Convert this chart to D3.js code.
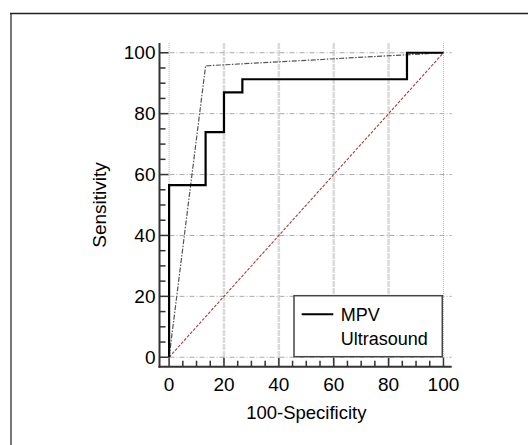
<!DOCTYPE html>
<html>
<head>
<meta charset="utf-8">
<script src="https://cdn.jsdelivr.net/npm/d3@7"></script>
<style>
  body { margin: 0; background: #fff; }
  svg { display: block; font-family: "Liberation Sans", Arial, sans-serif; }
</style>
</head>
<body>
<div id="chart"></div>
<script>
const w = 528;
const h = 445;

// ROC curve for MPV (step curve corners)
const mpvSpec = [0, 0, 13.3, 20, 26.7, 86.7, 100];
const mpvSens = [0, 56.5, 73.9, 87.0, 91.3, 100, 100];

// ROC curve for ultrasound (single cut point)
const usSpec = [0, 13.3, 100];
const usSens = [0, 95.7, 100];

// reference diagonal
const refSpec = [0, 100];
const refSens = [0, 100];

const majorTicks = [0, 20, 40, 60, 80, 100];
const minorTicks = d3.range(0, 101, 5).filter((d) => d % 20 !== 0);
const legendLabels = ["MPV", "Ultrasound"];

const svg = d3.select("#chart").append("svg")
  .attr("width", w)
  .attr("height", h);

// outer frame (only left and top edges are visible)
svg.append("line").attr("x1", 11).attr("x2", 11).attr("y1", 13).attr("y2", h)
  .attr("stroke", "#777").attr("stroke-width", 2);
svg.append("line").attr("x1", 10).attr("x2", w).attr("y1", 13.5).attr("y2", 13.5)
  .attr("stroke", "#222").attr("stroke-width", 1.5);

const pLeft = 159.5, pRight = 451.7, pTop = 43, pBottom = 366.7;

const x = d3.scaleLinear().domain([-3.5, 103]).range([pLeft, pRight]);
const y = d3.scaleLinear().domain([-3.1, 103.2]).range([pBottom, pTop]);

const grid = svg.append("g");

// vertical grid
grid.selectAll("line.vg").data(majorTicks).enter().append("line")
  .attr("class", "vg")
  .attr("x1", (d) => x(d)).attr("x2", (d) => x(d))
  .attr("y1", pTop).attr("y2", pBottom)
  .attr("stroke", (d) => (d === 0 || d === 100) ? "#b8b8b8" : "#dadada")
  .attr("stroke-width", (d) => (d === 0 || d === 100) ? 1 : 2.5)
  .attr("stroke-dasharray", (d) => (d === 0 || d === 100) ? "1,1" : "6,1");

// horizontal grid
grid.selectAll("line.hg").data(majorTicks).enter().append("line")
  .attr("class", "hg")
  .attr("x1", pLeft).attr("x2", pRight)
  .attr("y1", (d) => y(d)).attr("y2", (d) => y(d))
  .attr("stroke", "#aaa")
  .attr("stroke-width", 1)
  .attr("stroke-dasharray", "5,2,1,2");

// diagonal
const line = d3.line().x((d) => x(d[0])).y((d) => y(d[1]));
svg.append("path")
  .datum(refSpec.map((d, i) => [d, refSens[i]]))
  .attr("d", line)
  .attr("fill", "none")
  .attr("stroke", "#a83c3c")
  .attr("stroke-width", 1.1)
  .attr("stroke-dasharray", "3,1.5");

// ultrasound
svg.append("path")
  .datum(usSpec.map((d, i) => [d, usSens[i]]))
  .attr("d", line)
  .attr("fill", "none")
  .attr("stroke", "#555")
  .attr("stroke-width", 1.2)
  .attr("stroke-dasharray", "5,1.5,1.5,1.5");

// MPV
const stepLine = d3.line().x((d) => x(d[0])).y((d) => y(d[1])).curve(d3.curveStepAfter);
svg.append("path")
  .datum(mpvSpec.map((d, i) => [d, mpvSens[i]]))
  .attr("d", stepLine)
  .attr("fill", "none")
  .attr("stroke", "#000")
  .attr("stroke-width", 2.2);

// axes lines
svg.append("line").attr("x1", pLeft).attr("x2", pLeft).attr("y1", pTop).attr("y2", pBottom + 1)
  .attr("stroke", "#333").attr("stroke-width", 2);
svg.append("line").attr("x1", pLeft - 1).attr("x2", pRight).attr("y1", pBottom).attr("y2", pBottom)
  .attr("stroke", "#333").attr("stroke-width", 2);

// y ticks (inward)
svg.append("g").selectAll("line").data(majorTicks.concat(minorTicks)).enter().append("line")
  .attr("x1", pLeft).attr("x2", (d) => pLeft + (d % 20 === 0 ? 9 : 6))
  .attr("y1", (d) => y(d)).attr("y2", (d) => y(d))
  .attr("stroke", "#333").attr("stroke-width", 1.5);

// x ticks (inward)
svg.append("g").selectAll("line").data(majorTicks.concat(minorTicks)).enter().append("line")
  .attr("x1", (d) => x(d)).attr("x2", (d) => x(d))
  .attr("y1", pBottom).attr("y2", (d) => pBottom - (d % 20 === 0 ? 9 : 6))
  .attr("stroke", "#333").attr("stroke-width", 1.5);

// tick labels
svg.append("g").selectAll("text").data(majorTicks).enter().append("text")
  .attr("x", pLeft - 4)
  .attr("y", (d) => y(d))
  .attr("dy", "0.35em")
  .attr("text-anchor", "end")
  .style("font-size", "19px")
  .text((d) => d);

svg.append("g").selectAll("text").data(majorTicks).enter().append("text")
  .attr("x", (d) => x(d))
  .attr("y", 391)
  .attr("text-anchor", "middle")
  .style("font-size", "19px")
  .text((d) => d);

// axis titles
svg.append("text")
  .attr("x", x(50)).attr("y", 418.5)
  .attr("text-anchor", "middle")
  .style("font-size", "18.5px")
  .text("100-Specificity");

svg.append("text")
  .attr("transform", `translate(105.5, ${y(50)}) rotate(-90)`)
  .attr("text-anchor", "middle")
  .style("font-size", "19px")
  .text("Sensitivity");

// legend
const legend = svg.append("g");
legend.append("rect")
  .attr("x", 294).attr("y", 295.7).attr("width", 148.3).attr("height", 61)
  .attr("fill", "#fff").attr("stroke", "#444").attr("stroke-width", 1.5);
legend.append("line")
  .attr("x1", 301.7).attr("x2", 333.3).attr("y1", 314.3).attr("y2", 314.3)
  .attr("stroke", "#000").attr("stroke-width", 2);
legend.selectAll("text").data(legendLabels).enter().append("text")
  .attr("x", 340.7)
  .attr("y", (d, i) => 320.5 + i * 24.5)
  .style("font-size", "18px")
  .text((d) => d);
</script>
</body>
</html>
